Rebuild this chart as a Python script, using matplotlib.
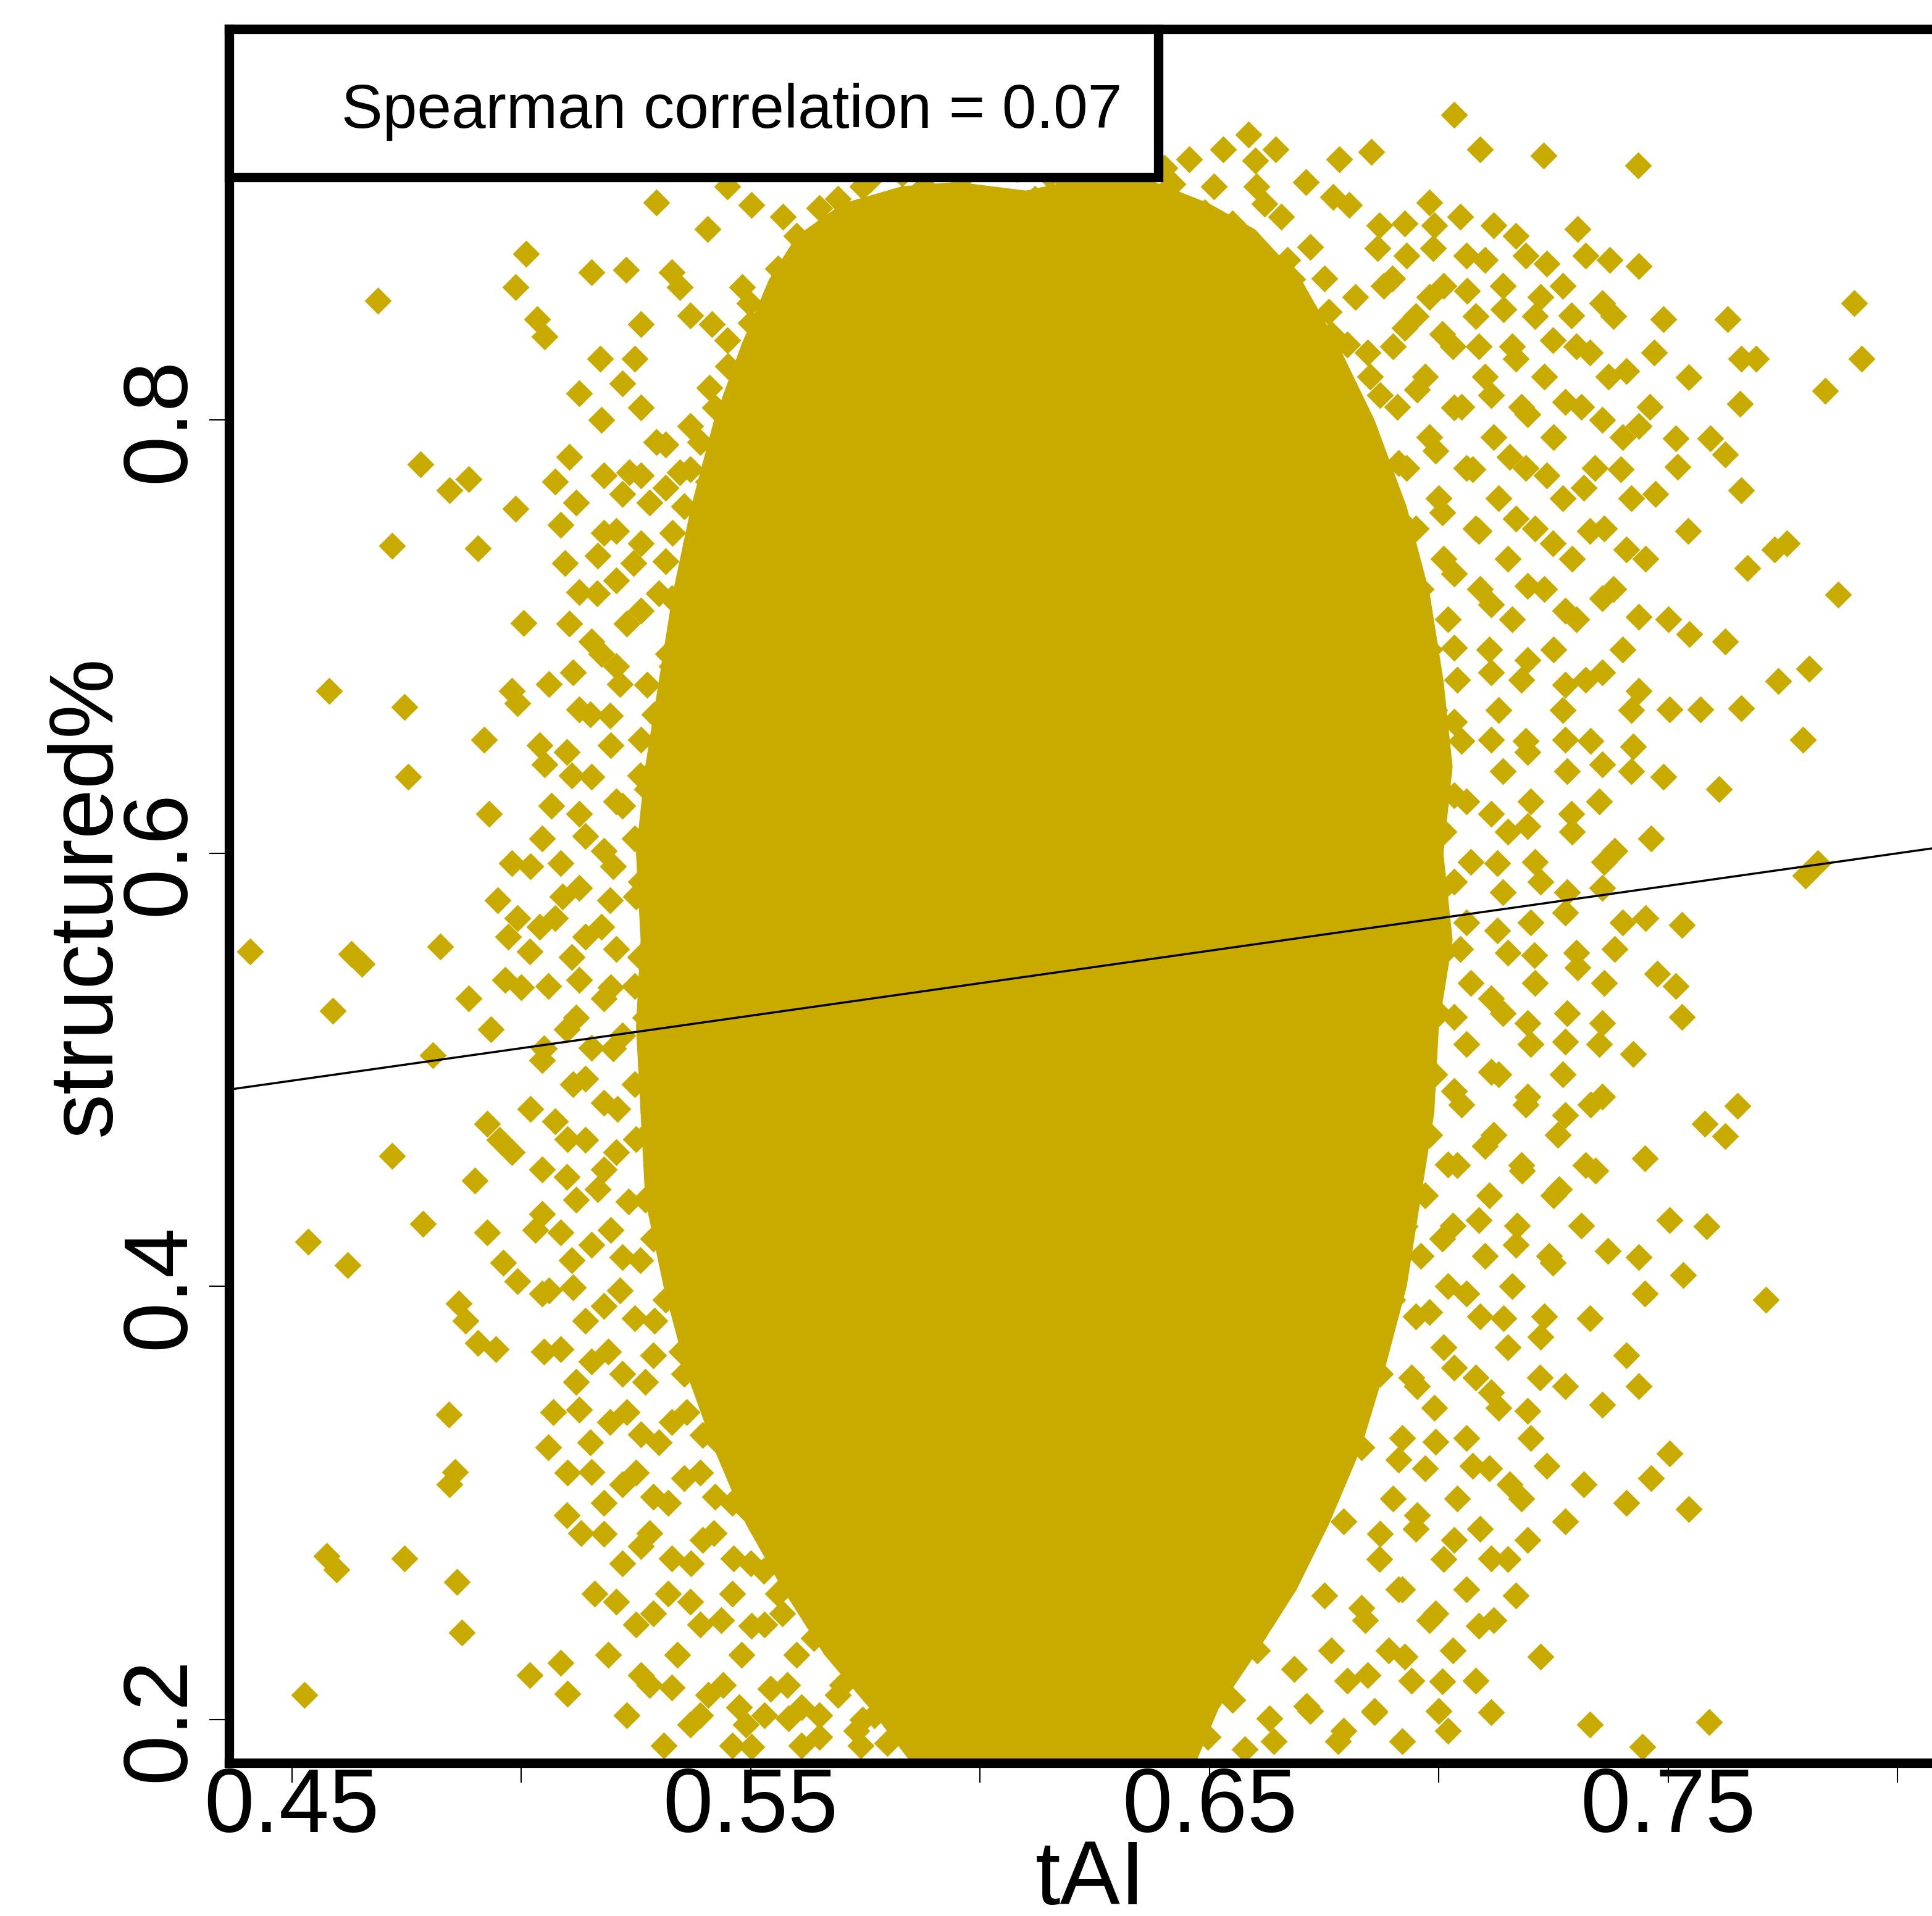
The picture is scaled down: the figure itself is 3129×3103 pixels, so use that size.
import matplotlib
matplotlib.use("Agg")
import matplotlib.pyplot as plt
from matplotlib.patches import Rectangle
import numpy as np

plt.rcParams['font.family'] = ['Liberation Sans', 'DejaVu Sans']

# ---------------- data ----------------
x_label = "tAI"
y_label = "structured%"
legend_text = "Spearman correlation = 0.07"
x_major = [0.45, 0.55, 0.65, 0.75]
x_major_labels = ["0.45", "0.55", "0.65", "0.75"]
x_minor = [0.50, 0.60, 0.70, 0.80]
y_major = [0.2, 0.4, 0.6, 0.8]
y_major_labels = ["0.2", "0.4", "0.6", "0.8"]
x_range = (0.4363, 0.8118)
y_range = (0.1800, 0.9806)

# least-squares fit line (tAI -> structured%)
fit_slope = 0.300
fit_intercept = 0.360

# outline of the saturated core of the point cloud (overlapping points)
core_x = [0.5600, 0.5700, 0.5830, 0.5950, 0.6100, 0.6230, 0.6380, 0.6500, 0.6600, 0.6700,
          0.6780, 0.6860, 0.6930, 0.6980, 0.7010, 0.7030, 0.7010, 0.7030, 0.7000, 0.6990,
          0.6960, 0.6930, 0.6880, 0.6830, 0.6760, 0.6690, 0.6600, 0.6520, 0.6470, 0.5850,
          0.5760, 0.5660, 0.5570, 0.5490, 0.5420, 0.5360, 0.5310, 0.5270, 0.5260, 0.5250,
          0.5260, 0.5250, 0.5270, 0.5300, 0.5330, 0.5370, 0.5420, 0.5480, 0.5540]
core_y = [0.8850, 0.9000, 0.9080, 0.9100, 0.9060, 0.9120, 0.9100, 0.9000, 0.8880, 0.8650,
          0.8350, 0.8000, 0.7600, 0.7200, 0.6800, 0.6400, 0.6000, 0.5600, 0.5200, 0.4800,
          0.4400, 0.4000, 0.3600, 0.3250, 0.2900, 0.2600, 0.2300, 0.2050, 0.1800, 0.1800,
          0.2050, 0.2300, 0.2600, 0.2900, 0.3250, 0.3600, 0.4000, 0.4400, 0.4800, 0.5200,
          0.5600, 0.6000, 0.6400, 0.6800, 0.7200, 0.7600, 0.8000, 0.8350, 0.8650]

# individual points outside the saturated core
pts_far_left = [
    (0.4409, 0.5545), (0.4688, 0.8551), (0.4581, 0.6750), (0.4745, 0.6676), (0.4753, 0.6352),
    (0.4718, 0.7420), (0.4780, 0.7795), (0.4844, 0.7676), (0.4885, 0.7727), (0.4906, 0.7409),
    (0.4823, 0.5568), (0.4807, 0.5068), (0.4718, 0.4602), (0.4785, 0.4290), (0.4535, 0.4205),
    (0.4621, 0.4097), (0.4629, 0.5534), (0.4653, 0.5489), (0.4589, 0.5273), (0.4527, 0.2114),
    (0.4576, 0.2756), (0.4597, 0.2693), (0.4745, 0.2744), (0.4842, 0.3409), (0.4855, 0.3142),
    (0.4844, 0.3085), (0.4860, 0.2636), (0.4871, 0.2403), (0.4863, 0.3920), (0.4879, 0.3841),
    (0.4919, 0.6523), (0.4930, 0.6182), (0.4987, 0.7591), (0.5011, 0.8767), (0.4987, 0.8614),
    (0.5035, 0.8466), (0.5051, 0.8386), (0.4925, 0.4750), (0.4952, 0.4676), (0.4898, 0.4489),
    (0.4979, 0.4619), (0.4960, 0.4108), (0.4992, 0.4023), (0.4906, 0.3739), (0.4944, 0.3710),
    (0.5019, 0.2205), (0.5100, 0.2119), (0.5086, 0.2261), (0.4925, 0.4250), (0.4885, 0.5330),
    (0.4933, 0.5188), (0.4965, 0.5415), (0.4971, 0.5614), (0.4992, 0.5699), (0.5019, 0.5545),
    (0.4979, 0.5955), (0.4949, 0.5784), (0.4979, 0.6750), (0.4992, 0.6693), (0.5051, 0.6409),
    (0.5005, 0.7063), (0.5105, 0.7830), (0.5073, 0.7716), (0.5126, 0.7205), (0.5086, 0.7517),
]

pts_top = [
    (0.5153, 0.8682), (0.5228, 0.8693), (0.5172, 0.8284), (0.5126, 0.8125), (0.5175, 0.8000),
    (0.5261, 0.8443), (0.5295, 0.9006), (0.5406, 0.8881), (0.5328, 0.8682), (0.5346, 0.8614),
    (0.5368, 0.8483), (0.5416, 0.8443), (0.5449, 0.8369), (0.5481, 0.8614), (0.5497, 0.8540),
    (0.5543, 0.8398), (0.5475, 0.8227), (0.5508, 0.8125), (0.5422, 0.8057), (0.5368, 0.7972),
    (0.5314, 0.7886), (0.5261, 0.8057), (0.5220, 0.8170), (0.5247, 0.8284), (0.5583, 0.8568),
    (0.5623, 0.8767), (0.5570, 0.8938), (0.5690, 0.9023), (0.5717, 0.8881), (0.5744, 0.9080),
    (0.5798, 0.8994), (0.5838, 0.8852), (0.5878, 0.9080), (0.5932, 0.8938), (0.5986, 0.9023),
    (0.6040, 0.8909), (0.6120, 0.9023), (0.6187, 0.9108), (0.6228, 0.8938), (0.6295, 0.9023),
    (0.6348, 0.9108), (0.6402, 0.9165), (0.6456, 0.9205), (0.6510, 0.9080), (0.6585, 0.9318),
    (0.6644, 0.9250), (0.6603, 0.9080), (0.5637, 0.8653), (0.5757, 0.8739), (0.5905, 0.8711),
    (0.6053, 0.8767), (0.6200, 0.8739), (0.6361, 0.8795), (0.6483, 0.8824), (0.6550, 0.8909),
    (0.6657, 0.8938), (0.5650, 0.8483), (0.5717, 0.8568), (0.6550, 0.8625), (0.6630, 0.8511),
    (0.6684, 0.8398), (0.6670, 0.8739), (0.6724, 0.8227), (0.5449, 0.9080), (0.5502, 0.8994),
    (0.5560, 0.8700), (0.5600, 0.8850), (0.5650, 0.8980), (0.5700, 0.8750), (0.5760, 0.9110),
    (0.5830, 0.9140), (0.5900, 0.9170), (0.5960, 0.9120), (0.6080, 0.9160), (0.6150, 0.9130),
    (0.6260, 0.9150), (0.6330, 0.9180), (0.6420, 0.9090), (0.6490, 0.8960), (0.6560, 0.8840),
    (0.6620, 0.9000), (0.6680, 0.8650), (0.6720, 0.8800), (0.6760, 0.8500), (0.6800, 0.8350),
    (0.5500, 0.8450), (0.5450, 0.8250), (0.5530, 0.8300), (0.5410, 0.8150), (0.6850, 0.8200),
    (0.6710, 0.9100), (0.6770, 0.9030), (0.6600, 0.9200), (0.6530, 0.9250),
]

pts_left = [
    (0.5180, 0.7744), (0.5220, 0.7659), (0.5261, 0.7744), (0.5314, 0.7688), (0.5355, 0.7602),
    (0.5408, 0.7716), (0.5449, 0.7801), (0.5368, 0.7773), (0.5207, 0.7489), (0.5261, 0.7432),
    (0.5167, 0.7375), (0.5314, 0.7347), (0.5381, 0.7432), (0.5422, 0.7318), (0.5207, 0.7261),
    (0.5261, 0.7119), (0.5328, 0.7176), (0.5368, 0.7063), (0.5153, 0.6977), (0.5207, 0.6864),
    (0.5274, 0.6778), (0.5328, 0.6864), (0.5368, 0.6750), (0.5113, 0.6835), (0.5126, 0.6665),
    (0.5193, 0.6636), (0.5261, 0.6523), (0.5328, 0.6580), (0.5099, 0.6466), (0.5153, 0.6352),
    (0.5207, 0.6239), (0.5274, 0.6295), (0.5341, 0.6381), (0.5126, 0.6182), (0.5180, 0.6011),
    (0.5247, 0.6068), (0.5314, 0.6153), (0.5355, 0.6011), (0.5046, 0.6068), (0.5086, 0.5955),
    (0.5126, 0.5841), (0.5193, 0.5784), (0.5261, 0.5869), (0.5328, 0.5784), (0.5073, 0.5699),
    (0.5140, 0.5614), (0.5207, 0.5557), (0.5287, 0.5642), (0.5341, 0.5528), (0.5059, 0.5386),
    (0.5126, 0.5415), (0.5180, 0.5330), (0.5247, 0.5386), (0.5314, 0.5330), (0.5099, 0.5188),
    (0.5153, 0.5102), (0.5220, 0.5159), (0.5287, 0.5074), (0.5355, 0.5131), (0.5046, 0.5045),
    (0.5113, 0.4932), (0.5180, 0.4847), (0.5247, 0.4932), (0.5314, 0.4847), (0.5073, 0.4761),
    (0.5140, 0.4676), (0.5207, 0.4619), (0.5274, 0.4705), (0.5341, 0.4619), (0.5099, 0.4506),
    (0.5167, 0.4449), (0.5234, 0.4392), (0.5301, 0.4477), (0.5368, 0.4392), (0.5046, 0.4335),
    (0.5086, 0.4250), (0.5153, 0.4193), (0.5220, 0.4136), (0.5287, 0.4222), (0.5355, 0.4136),
    (0.5046, 0.3966), (0.5113, 0.3994), (0.5180, 0.3909), (0.5247, 0.3852), (0.5314, 0.3938),
    (0.5381, 0.3824), (0.5086, 0.3710), (0.5153, 0.3653), (0.5220, 0.3597), (0.5287, 0.3682),
    (0.5355, 0.3597), (0.5422, 0.3540), (0.5126, 0.3432), (0.5193, 0.3375), (0.5261, 0.3318),
    (0.5328, 0.3375), (0.5395, 0.3313), (0.5462, 0.3256), (0.5059, 0.3256), (0.5153, 0.3142),
    (0.5220, 0.3085), (0.5287, 0.3028), (0.5355, 0.3114), (0.5422, 0.3028), (0.5489, 0.2972),
    (0.5099, 0.2943), (0.5180, 0.2858), (0.5261, 0.2801), (0.5328, 0.2744), (0.5395, 0.2830),
    (0.5462, 0.2744), (0.5529, 0.2688), (0.5583, 0.2773), (0.5207, 0.2545), (0.5287, 0.2489),
    (0.5368, 0.2545), (0.5435, 0.2460), (0.5502, 0.2432), (0.5569, 0.2489), (0.5637, 0.2375),
    (0.5261, 0.2205), (0.5328, 0.2148), (0.5408, 0.2114), (0.5475, 0.2057), (0.5543, 0.2142),
    (0.5610, 0.2057), (0.5690, 0.2114), (0.5744, 0.2000), (0.5489, 0.1977), (0.5583, 0.2006),
    (0.5650, 0.1920), (0.5731, 0.1949), (0.5798, 0.1892), (0.5502, 0.1875), (0.5865, 0.2006),
    (0.5368, 0.1977),
]

pts_left_inner = [
    (0.5295, 0.790), (0.5390, 0.790), (0.5235, 0.776), (0.5345, 0.776),
    (0.5120, 0.762), (0.5280, 0.762), (0.5400, 0.762), (0.5180, 0.748), (0.5330, 0.748),
    (0.5095, 0.734), (0.5245, 0.734), (0.5380, 0.734), (0.5165, 0.720), (0.5300, 0.720),
    (0.5105, 0.706), (0.5230, 0.706), (0.5395, 0.706), (0.5175, 0.692), (0.5320, 0.692),
    (0.5060, 0.678), (0.5215, 0.678), (0.5345, 0.678), (0.5150, 0.664), (0.5290, 0.664),
    (0.5040, 0.650), (0.5195, 0.650), (0.5330, 0.650), (0.5110, 0.636), (0.5260, 0.636),
    (0.5065, 0.622), (0.5220, 0.622), (0.5350, 0.622), (0.5140, 0.608), (0.5290, 0.608),
    (0.5020, 0.594), (0.5200, 0.594), (0.5330, 0.594), (0.5090, 0.580), (0.5250, 0.580),
    (0.5040, 0.566), (0.5175, 0.566), (0.5310, 0.566), (0.5110, 0.552), (0.5260, 0.552),
    (0.5000, 0.538), (0.5195, 0.538), (0.5340, 0.538), (0.5120, 0.524), (0.5270, 0.524),
    (0.5050, 0.510), (0.5200, 0.510), (0.5330, 0.510), (0.5140, 0.496), (0.5280, 0.496),
    (0.5020, 0.482), (0.5210, 0.482), (0.5350, 0.482), (0.5100, 0.468), (0.5250, 0.468),
    (0.5045, 0.454), (0.5180, 0.454), (0.5320, 0.454), (0.5120, 0.440), (0.5270, 0.440),
    (0.5030, 0.426), (0.5195, 0.426), (0.5330, 0.426), (0.5110, 0.412), (0.5260, 0.412),
    (0.5060, 0.398), (0.5215, 0.398), (0.5355, 0.398), (0.5140, 0.384), (0.5290, 0.384),
    (0.5050, 0.370), (0.5190, 0.370), (0.5350, 0.370), (0.5120, 0.356), (0.5270, 0.356),
    (0.5400, 0.356), (0.5070, 0.342), (0.5230, 0.342), (0.5360, 0.342), (0.5150, 0.328),
    (0.5300, 0.328), (0.5430, 0.328), (0.5100, 0.314), (0.5250, 0.314), (0.5390, 0.314),
    (0.5180, 0.300), (0.5320, 0.300), (0.5460, 0.300), (0.5130, 0.286), (0.5280, 0.286),
    (0.5420, 0.286), (0.5220, 0.272), (0.5370, 0.272), (0.5500, 0.272), (0.5160, 0.258),
    (0.5320, 0.258), (0.5460, 0.258), (0.5560, 0.258), (0.5250, 0.244), (0.5390, 0.244),
    (0.5530, 0.244), (0.5190, 0.230), (0.5340, 0.230), (0.5480, 0.230), (0.5600, 0.230),
    (0.5280, 0.216), (0.5440, 0.216), (0.5580, 0.216), (0.5700, 0.216), (0.5230, 0.202),
    (0.5390, 0.202), (0.5530, 0.202), (0.5650, 0.202), (0.5770, 0.202), (0.5310, 0.188),
    (0.5460, 0.188), (0.5610, 0.188), (0.5740, 0.188),
]

pts_right = [
    (0.7033, 0.9409), (0.6783, 0.9205), (0.6853, 0.9239), (0.7090, 0.9250), (0.7229, 0.9222),
    (0.7434, 0.9176), (0.6980, 0.9006), (0.6805, 0.8994), (0.6926, 0.8909), (0.7047, 0.8938),
    (0.7168, 0.8852), (0.7302, 0.8881), (0.7372, 0.8739), (0.7436, 0.8710), (0.7235, 0.8722),
    (0.7100, 0.8739), (0.6988, 0.8795), (0.6867, 0.8795), (0.6751, 0.8653), (0.6818, 0.8568),
    (0.6899, 0.8653), (0.6980, 0.8568), (0.7061, 0.8597), (0.7141, 0.8511), (0.7222, 0.8568),
    (0.7289, 0.8483), (0.7356, 0.8540), (0.7490, 0.8466), (0.7469, 0.8313), (0.7544, 0.8199),
    (0.7630, 0.8466), (0.7659, 0.8284), (0.7692, 0.8284), (0.7906, 0.8540), (0.7922, 0.8284),
    (0.7842, 0.8136), (0.7657, 0.8074), (0.7409, 0.8227), (0.7329, 0.8313), (0.7249, 0.8369),
    (0.7168, 0.8284), (0.7087, 0.8341), (0.7007, 0.8398), (0.6926, 0.8426), (0.6845, 0.8313),
    (0.6765, 0.8398),
    (0.6792, 0.8170), (0.6872, 0.8114), (0.6953, 0.8142), (0.7033, 0.8057), (0.7114, 0.8114),
    (0.7194, 0.8028), (0.7275, 0.8085), (0.7356, 0.8000), (0.7436, 0.7972), (0.7517, 0.7915),
    (0.7592, 0.7915), (0.7624, 0.7841), (0.7520, 0.7784), (0.7472, 0.7659), (0.7659, 0.7676),
    (0.6832, 0.7886), (0.6912, 0.7801), (0.6993, 0.7858), (0.7074, 0.7773), (0.7154, 0.7830),
    (0.7235, 0.7744), (0.7316, 0.7688), (0.7396, 0.7773), (0.6845, 0.7602), (0.6926, 0.7517),
    (0.7007, 0.7574), (0.7087, 0.7489), (0.7168, 0.7545), (0.7249, 0.7432), (0.7329, 0.7489),
    (0.7409, 0.7403), (0.7543, 0.7489), (0.7672, 0.7318), (0.7732, 0.7403), (0.7759, 0.7432),
    (0.7871, 0.7193), (0.6872, 0.7261), (0.6953, 0.7205), (0.7033, 0.7290), (0.7114, 0.7148),
    (0.7194, 0.7233), (0.7275, 0.7119), (0.7356, 0.7176), (0.7436, 0.7091), (0.7546, 0.7011),
    (0.7624, 0.6977), (0.7659, 0.6670), (0.7740, 0.6795), (0.7807, 0.6852), (0.7793, 0.6523),
    (0.7570, 0.6665), (0.7610, 0.6295), (0.6872, 0.6977), (0.6953, 0.6892), (0.7033, 0.6949),
    (0.7114, 0.6835), (0.7194, 0.6892), (0.7275, 0.6778), (0.7356, 0.6835), (0.7436, 0.6750),
    (0.7503, 0.6665), (0.6872, 0.6636), (0.6953, 0.6551), (0.7033, 0.6608), (0.7114, 0.6523),
    (0.7194, 0.6466), (0.7275, 0.6523), (0.7356, 0.6409), (0.7423, 0.6494), (0.7490, 0.6352),
    (0.6872, 0.6295), (0.6953, 0.6210), (0.7033, 0.6267), (0.7114, 0.6182), (0.7194, 0.6125),
    (0.7289, 0.6182), (0.7383, 0.6011), (0.7463, 0.6068), (0.6872, 0.6011), (0.6953, 0.5926),
    (0.7033, 0.5869), (0.7127, 0.5955), (0.7221, 0.5869), (0.7275, 0.5727), (0.7356, 0.5841),
    (0.7450, 0.5699), (0.7530, 0.5670), (0.7799, 0.5898), (0.7826, 0.5955), (0.6872, 0.5727),
    (0.6953, 0.5614), (0.7047, 0.5557), (0.7127, 0.5642), (0.7208, 0.5528), (0.7302, 0.5472),
    (0.7383, 0.5557), (0.7476, 0.5443), (0.7517, 0.5386), (0.7530, 0.5244), (0.6872, 0.5386),
    (0.6953, 0.5301), (0.7033, 0.5244), (0.7114, 0.5330), (0.7194, 0.5216), (0.7275, 0.5131),
    (0.7356, 0.5216), (0.7423, 0.5074), (0.6872, 0.5045), (0.6953, 0.4960), (0.7033, 0.4903),
    (0.7114, 0.4989), (0.7194, 0.4875), (0.7275, 0.4790), (0.7356, 0.4875), (0.7579, 0.4750),
    (0.7624, 0.4693), (0.7651, 0.4835), (0.6859, 0.4705), (0.6939, 0.4619), (0.7020, 0.4562),
    (0.7100, 0.4648), (0.7181, 0.4534), (0.7262, 0.4449), (0.7342, 0.4534), (0.7449, 0.4591),
    (0.6845, 0.4364), (0.6926, 0.4278), (0.7007, 0.4222), (0.7087, 0.4307), (0.7168, 0.4193),
    (0.7249, 0.4108), (0.7369, 0.4165), (0.7436, 0.4136), (0.7503, 0.4307), (0.7584, 0.4278),
    (0.6818, 0.4023), (0.6899, 0.3938), (0.6980, 0.3881), (0.7060, 0.3966), (0.7141, 0.3852),
    (0.7222, 0.3767), (0.7329, 0.3852), (0.7449, 0.3966), (0.7713, 0.3938), (0.7533, 0.4051),
    (0.6792, 0.3682), (0.6872, 0.3597), (0.6953, 0.3540), (0.7033, 0.3625), (0.7114, 0.3511),
    (0.7194, 0.3426), (0.7275, 0.3540), (0.7356, 0.3455), (0.7436, 0.3540), (0.7409, 0.3682),
    (0.6751, 0.3341), (0.6832, 0.3256), (0.6912, 0.3199), (0.6993, 0.3284), (0.7074, 0.3170),
    (0.7154, 0.3085), (0.7235, 0.3170), (0.7316, 0.3085), (0.7503, 0.3227), (0.7409, 0.3000),
    (0.6711, 0.3000), (0.6792, 0.2915), (0.6872, 0.2858), (0.6953, 0.2943), (0.7033, 0.2830),
    (0.7114, 0.2744), (0.7194, 0.2830), (0.7275, 0.2915), (0.6670, 0.2659), (0.6751, 0.2574),
    (0.6832, 0.2517), (0.6912, 0.2602), (0.6993, 0.2489), (0.7087, 0.2432), (0.7168, 0.2574),
    (0.7222, 0.2289), (0.7463, 0.3114), (0.7544, 0.2972), (0.7329, 0.1977), (0.7444, 0.1875),
    (0.7589, 0.1989), (0.6604, 0.2318), (0.6684, 0.2233), (0.6765, 0.2318), (0.6845, 0.2205),
    (0.6926, 0.2289), (0.7007, 0.2176), (0.6550, 0.2091), (0.6631, 0.2006), (0.6711, 0.2062),
    (0.6792, 0.1949), (0.6859, 0.2034), (0.6496, 0.1920), (0.6577, 0.1864), (0.7114, 0.2034),
    (0.7020, 0.1949),
]

pts_right_inner = [
    (0.6870, 0.890), (0.6990, 0.890), (0.7120, 0.890),
    (0.6930, 0.876), (0.7060, 0.876), (0.7190, 0.876), (0.7320, 0.876),
    (0.6880, 0.862), (0.7010, 0.862), (0.7140, 0.862), (0.7270, 0.862),
    (0.6950, 0.848), (0.7080, 0.848), (0.7210, 0.848), (0.7380, 0.848),
    (0.6900, 0.834), (0.7030, 0.834), (0.7160, 0.834), (0.7300, 0.834),
    (0.6970, 0.820), (0.7100, 0.820), (0.7230, 0.820), (0.7370, 0.820),
    (0.6910, 0.806), (0.7050, 0.806), (0.7180, 0.806), (0.7310, 0.806), (0.7460, 0.806),
    (0.6980, 0.792), (0.7120, 0.792), (0.7250, 0.792), (0.7400, 0.792),
    (0.6930, 0.778), (0.7060, 0.778), (0.7190, 0.778), (0.7340, 0.778),
    (0.7000, 0.764), (0.7130, 0.764), (0.7270, 0.764), (0.7420, 0.764),
    (0.6950, 0.750), (0.7080, 0.750), (0.7210, 0.750), (0.7360, 0.750),
    (0.7010, 0.736), (0.7150, 0.736), (0.7290, 0.736), (0.7450, 0.736),
    (0.6960, 0.722), (0.7090, 0.722), (0.7230, 0.722), (0.7380, 0.722),
    (0.7020, 0.708), (0.7160, 0.708), (0.7300, 0.708), (0.7500, 0.708),
    (0.6980, 0.694), (0.7110, 0.694), (0.7250, 0.694), (0.7400, 0.694),
    (0.7040, 0.680), (0.7180, 0.680), (0.7320, 0.680),
    (0.6990, 0.666), (0.7130, 0.666), (0.7270, 0.666), (0.7420, 0.666),
    (0.7050, 0.652), (0.7190, 0.652), (0.7330, 0.652),
    (0.7000, 0.638), (0.7140, 0.638), (0.7280, 0.638), (0.7420, 0.638),
    (0.7060, 0.624), (0.7200, 0.624), (0.7350, 0.624),
    (0.7010, 0.610), (0.7150, 0.610), (0.7290, 0.610),
    (0.7070, 0.596), (0.7210, 0.596), (0.7360, 0.596),
    (0.7000, 0.582), (0.7140, 0.582), (0.7280, 0.582),
    (0.7060, 0.568), (0.7200, 0.568), (0.7400, 0.568),
    (0.7010, 0.554), (0.7150, 0.554), (0.7300, 0.554),
    (0.7070, 0.540), (0.7210, 0.540), (0.7360, 0.540),
    (0.7000, 0.526), (0.7140, 0.526), (0.7280, 0.526),
    (0.7060, 0.512), (0.7200, 0.512), (0.7350, 0.512),
    (0.6990, 0.498), (0.7130, 0.498), (0.7270, 0.498),
    (0.7050, 0.484), (0.7190, 0.484), (0.7330, 0.484),
    (0.6980, 0.470), (0.7120, 0.470), (0.7260, 0.470),
    (0.7040, 0.456), (0.7180, 0.456), (0.7320, 0.456),
    (0.6970, 0.442), (0.7110, 0.442), (0.7250, 0.442),
    (0.7030, 0.428), (0.7170, 0.428), (0.7310, 0.428),
    (0.6960, 0.414), (0.7100, 0.414), (0.7240, 0.414),
    (0.7020, 0.400), (0.7160, 0.400),
    (0.6950, 0.386), (0.7090, 0.386), (0.7230, 0.386),
    (0.7010, 0.372), (0.7150, 0.372),
    (0.6940, 0.358), (0.7080, 0.358), (0.7220, 0.358),
    (0.6990, 0.344), (0.7130, 0.344),
    (0.6920, 0.330), (0.7060, 0.330), (0.7200, 0.330),
    (0.6970, 0.316), (0.7110, 0.316),
    (0.6900, 0.302), (0.7040, 0.302), (0.7180, 0.302),
    (0.6950, 0.288), (0.7090, 0.288),
    (0.6870, 0.274), (0.7010, 0.274), (0.7150, 0.274),
    (0.6920, 0.260), (0.7060, 0.260),
    (0.6840, 0.246), (0.6980, 0.246), (0.7120, 0.246),
    (0.6890, 0.232), (0.7030, 0.232),
    (0.6800, 0.218), (0.6940, 0.218), (0.7080, 0.218),
    (0.6720, 0.204), (0.6860, 0.204), (0.7000, 0.204),
    (0.6640, 0.190), (0.6780, 0.190), (0.6920, 0.190),
]

# ---------------- figure ----------------
W, H = 3129, 3103
fig = plt.figure(figsize=(W / 100, H / 100), dpi=100)
ax = fig.add_axes([371 / W, (H - 2855) / H, (3161 - 371) / W, (2855 - 47) / H])

gold = '#C9AB00'

ax.fill(core_x, core_y, color=gold, lw=0, zorder=1)
all_pts = pts_far_left + pts_top + pts_left + pts_left_inner + pts_right + pts_right_inner
px = [p[0] for p in all_pts]
py = [p[1] for p in all_pts]
ax.scatter(px, py, marker='D', s=500, color=gold, linewidths=0, zorder=1)

xs = np.array(x_range)
ax.plot(xs, fit_intercept + fit_slope * xs, color='black', lw=2.5, zorder=2)

ax.set_xlim(*x_range)
ax.set_ylim(*y_range)

ax.set_xticks(x_major)
ax.set_xticklabels(x_major_labels)
ax.set_xticks(x_minor, minor=True)
ax.set_yticks(y_major)
ax.set_yticklabels(y_major_labels, rotation=90, va='center')

ax.tick_params(axis='x', which='both', direction='out', length=23, width=1.5,
               labelsize=105, pad=-19)
ax.tick_params(axis='y', which='both', direction='out', length=23, width=1.5,
               labelsize=105, pad=8)

for s in ax.spines.values():
    s.set_linewidth(11)

ax.set_xlabel(x_label, fontsize=105)
ax.set_ylabel(y_label, fontsize=105)
ax.xaxis.set_label_coords(0.5, -0.0438)
ax.yaxis.set_label_coords(-0.0584, 0.5)

# legend box with the correlation text
box = Rectangle((0, 0.9145), 0.5394, 1 - 0.9145, transform=ax.transAxes,
                facecolor='white', edgecolor='black', lw=11, zorder=3, clip_on=False)
ax.add_patch(box)
ax.text(0.0652, 0.9430, legend_text, transform=ax.transAxes, fontsize=72,
        ha='left', va='baseline', zorder=4)

fig.savefig('out.png', dpi=100)
